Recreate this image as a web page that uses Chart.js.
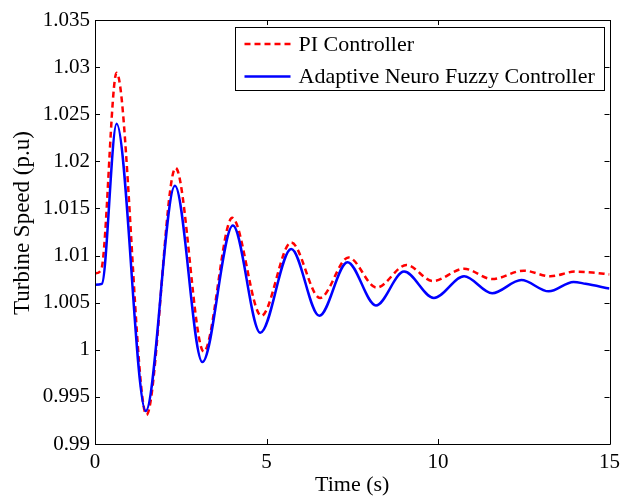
<!DOCTYPE html>
<html>
<head>
<meta charset="utf-8">
<script src="https://cdn.jsdelivr.net/npm/chart.js@4.4.1/dist/chart.umd.min.js"></script>
<style>
  html, body { margin: 0; padding: 0; background: #ffffff; }
  #wrap { width: 626px; height: 504px; }
</style>
</head>
<body>
<div id="wrap"><canvas id="c" width="626" height="504"></canvas></div>
<script>
// ---- data ----
const seriesNames = ['PI Controller', 'Adaptive Neuro Fuzzy Controller'];

const piTime  = [0, 0.18, 0.63, 1.50, 2.35, 3.17, 4.00, 4.85, 5.72, 6.56, 7.39, 8.21, 9.08, 9.85, 10.76, 11.58, 12.50, 13.28, 14.00, 14.50, 15];
const piSpeed = [1.0081, 1.0085, 1.0294, 0.9931, 1.0193, 0.9998, 1.0140, 1.0036, 1.0114, 1.0055, 1.0098, 1.0066, 1.0090, 1.0073, 1.0086, 1.0075, 1.0084, 1.0078, 1.0083, 1.0082, 1.0080];

const anfTime  = [0, 0.20, 0.63, 1.48, 2.33, 3.13, 4.02, 4.82, 5.72, 6.54, 7.36, 8.19, 9.01, 9.88, 10.76, 11.58, 12.43, 13.23, 13.95, 14.30, 15];
const anfSpeed = [1.0069, 1.0070, 1.0240, 0.9935, 1.0174, 0.9987, 1.0132, 1.0018, 1.0107, 1.0036, 1.0093, 1.0047, 1.0083, 1.0055, 1.0078, 1.0060, 1.0074, 1.0062, 1.0072, 1.0070, 1.0065];

const xTicks = [0, 5, 10, 15];
const xTickLabels = ['0', '5', '10', '15'];
const yTicks = [0.99, 0.995, 1.0, 1.005, 1.01, 1.015, 1.02, 1.025, 1.03, 1.035];
const yTickLabels = ['0.99', '0.995', '1', '1.005', '1.01', '1.015', '1.02', '1.025', '1.03', '1.035'];

const xTitle = 'Time (s)';
const yTitle = 'Turbine Speed (p.u)';

// ---- chart ----
const FONT = "'Liberation Serif', 'Times New Roman', serif";
const toPts = (xs, ys) => xs.map((x, i) => ({ x: x, y: ys[i] }));

const frameAndTicks = {
  id: 'frameAndTicks',
  afterDraw(chart) {
    const ctx = chart.ctx;
    const a = chart.chartArea;
    const xs = chart.scales.x, ys = chart.scales.y;
    const L = 5;
    ctx.save();
    ctx.strokeStyle = '#000';
    ctx.lineWidth = 1;
    ctx.beginPath();
    ctx.rect(Math.round(a.left) + 0.5, Math.round(a.top) + 0.5,
             Math.round(a.right - a.left), Math.round(a.bottom - a.top));
    ctx.stroke();
    ctx.beginPath();
    xTicks.forEach(v => {
      const px = Math.round(xs.getPixelForValue(v)) + 0.5;
      ctx.moveTo(px, a.bottom); ctx.lineTo(px, a.bottom - L);
      ctx.moveTo(px, a.top); ctx.lineTo(px, a.top + L);
    });
    yTicks.forEach(v => {
      const py = Math.round(ys.getPixelForValue(v)) + 0.5;
      ctx.moveTo(a.left, py); ctx.lineTo(a.left + L, py);
      ctx.moveTo(a.right, py); ctx.lineTo(a.right - L, py);
    });
    ctx.stroke();

    // y axis title (slightly above the axis centre, as in the reference)
    ctx.save();
    ctx.fillStyle = '#000';
    ctx.font = '23px ' + FONT;
    ctx.textAlign = 'center';
    ctx.textBaseline = 'middle';
    ctx.translate(23, (a.top + a.bottom) / 2 - 9);
    ctx.rotate(-Math.PI / 2);
    ctx.fillText(yTitle, 0, 0);
    ctx.restore();

    // legend box
    const boxR = a.right - 6, boxT = a.top + 7;
    const boxW = 369, boxH = 63;
    const boxL = boxR - boxW;
    ctx.fillStyle = '#fff';
    ctx.fillRect(boxL, boxT, boxW, boxH);
    ctx.strokeStyle = '#000';
    ctx.lineWidth = 1;
    ctx.strokeRect(Math.round(boxL) + 0.5, Math.round(boxT) + 0.5, boxW, boxH);
    ctx.font = '22px ' + FONT;
    ctx.textBaseline = 'middle';
    ctx.textAlign = 'left';
    chart.data.datasets.forEach((ds, i) => {
      const cy = boxT + 17 + i * 32.5;
      ctx.save();
      ctx.strokeStyle = ds.borderColor;
      ctx.lineWidth = ds.borderWidth;
      ctx.setLineDash(ds.borderDash || []);
      ctx.beginPath();
      ctx.moveTo(boxL + 10, cy); ctx.lineTo(boxL + 56, cy);
      ctx.stroke();
      ctx.restore();
      ctx.fillStyle = '#000';
      ctx.fillText(ds.label, boxL + 64, cy + 1);
    });
    ctx.restore();
  }
};

new Chart(document.getElementById('c'), {
  type: 'line',
  data: {
    datasets: [
      {
        label: seriesNames[0],
        data: toPts(piTime, piSpeed),
        borderColor: '#ff0000',
        borderWidth: 2.5,
        borderDash: [6, 4],
        pointRadius: 0,
        fill: false,
        cubicInterpolationMode: 'monotone',
        order: 2
      },
      {
        label: seriesNames[1],
        data: toPts(anfTime, anfSpeed),
        borderColor: '#0000ff',
        borderWidth: 2.5,
        pointRadius: 0,
        fill: false,
        cubicInterpolationMode: 'monotone',
        order: 1
      }
    ]
  },
  options: {
    responsive: false,
    animation: false,
    devicePixelRatio: 1,
    layout: { padding: { left: 0, top: 20, right: 15, bottom: 0 } },
    plugins: { legend: { display: false }, tooltip: { enabled: false } },
    scales: {
      x: {
        type: 'linear',
        min: 0, max: 15,
        grid: { display: false, drawTicks: false },
        border: { display: false },
        afterBuildTicks: s => { s.ticks = xTicks.map(v => ({ value: v })); },
        afterFit: s => { s.height = 60; },
        ticks: {
          padding: 6,
          color: '#000',
          maxRotation: 0,
          font: { family: FONT, size: 21 },
          callback: (v, i) => xTickLabels[i]
        },
        title: {
          display: true, text: xTitle, color: '#000',
          font: { family: FONT, size: 22 },
          padding: { top: 0, bottom: 6 }
        }
      },
      y: {
        type: 'linear',
        min: 0.99, max: 1.035,
        grid: { display: false, drawTicks: false },
        border: { display: false },
        afterBuildTicks: s => { s.ticks = yTicks.map(v => ({ value: v })); },
        afterFit: s => { s.width = 95; },
        ticks: {
          padding: 5,
          color: '#000',
          font: { family: FONT, size: 21 },
          callback: (v, i) => yTickLabels[i]
        },
        title: { display: false }
      }
    }
  },
  plugins: [frameAndTicks]
});
</script>
</body>
</html>
